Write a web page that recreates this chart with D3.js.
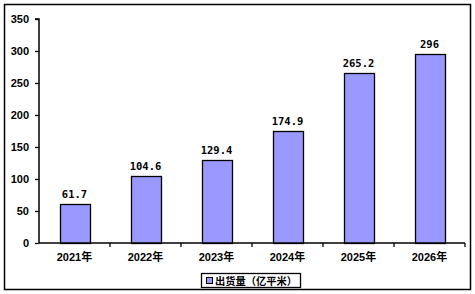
<!DOCTYPE html>
<html>
<head>
<meta charset="utf-8">
<script src="https://cdn.jsdelivr.net/npm/d3@7"></script>
<style>
  body { margin: 0; background: #fff; }
  svg { display: block; }
</style>
</head>
<body>
<div id="chart"></div>
<script>
const years = ["2021年", "2022年", "2023年", "2024年", "2025年", "2026年"];
const shipments = [61.7, 104.6, 129.4, 174.9, 265.2, 296];
const valueLabels = ["61.7", "104.6", "129.4", "174.9", "265.2", "296"];
const yTicks = [0, 50, 100, 150, 200, 250, 300, 350];
const seriesName = "出货量（亿平米）";

const width = 475, height = 294;
const margin = { top: 19, right: 10, bottom: 51, left: 39 };

const svg = d3.select("#chart").append("svg")
    .attr("width", width)
    .attr("height", height);

// outer frame
svg.append("rect")
    .attr("x", 4.5).attr("y", 4.5)
    .attr("width", 466).attr("height", 285)
    .attr("fill", "#fff")
    .attr("stroke", "#000")
    .attr("stroke-width", 1.5);

const x = d3.scaleBand()
    .domain(years)
    .range([margin.left, 465])
    .paddingInner(0.58)
    .paddingOuter(0.29);

const y = d3.scaleLinear()
    .domain([0, 350])
    .range([243, margin.top]);

const bandStep = x.step();

// bars
svg.selectAll(".bar")
    .data(shipments)
    .enter()
    .append("rect")
    .attr("class", "bar")
    .attr("x", (d, i) => Math.round(x(years[i])) + 0.5)
    .attr("y", d => Math.round(y(d)) + 0.5)
    .attr("width", Math.round(x.bandwidth()))
    .attr("height", d => Math.round(y(0)) - Math.round(y(d)))
    .attr("fill", "#9999ff")
    .attr("stroke", "#000")
    .attr("stroke-width", 1.3);

// value labels
svg.selectAll(".val")
    .data(shipments)
    .enter()
    .append("text")
    .attr("class", "val")
    .attr("x", (d, i) => x(years[i]) + x.bandwidth() / 2)
    .attr("y", d => y(d) - 6)
    .attr("text-anchor", "middle")
    .style("font-family", "'DejaVu Sans Mono', monospace")
    .style("font-weight", "bold")
    .style("font-size", "10.5px")
    .text((d, i) => valueLabels[i]);

// y axis
const yAxis = svg.append("g")
    .attr("transform", `translate(${margin.left},0)`)
    .call(d3.axisLeft(y).tickValues(yTicks).tickSize(4).tickPadding(6));
yAxis.select(".domain").attr("stroke-width", 1.5).attr("d", `M-4,${y(350)}H0V${y(0)}`);
yAxis.selectAll("line").attr("stroke-width", 1.3);
yAxis.selectAll("text")
    .style("font-family", "'Liberation Sans', Arial, sans-serif")
    .style("font-weight", "bold")
    .style("font-size", "11px")
    .attr("fill", "#000");

// x axis with ticks at category boundaries
const xAxisG = svg.append("g")
    .attr("transform", `translate(0,${y(0)})`);
xAxisG.append("line")
    .attr("x1", margin.left).attr("x2", 465)
    .attr("stroke", "#000").attr("stroke-width", 1.5);
xAxisG.selectAll(".xt")
    .data(d3.range(1, years.length + 1))
    .enter()
    .append("line")
    .attr("x1", i => margin.left + i * bandStep)
    .attr("x2", i => margin.left + i * bandStep)
    .attr("y1", 0).attr("y2", 4)
    .attr("stroke", "#000").attr("stroke-width", 1.3);
xAxisG.selectAll(".xl")
    .data(years)
    .enter()
    .append("text")
    .attr("x", d => x(d) + x.bandwidth() / 2)
    .attr("y", 18)
    .attr("text-anchor", "middle")
    .style("font-family", "'Liberation Sans', 'Noto Sans CJK SC', sans-serif")
    .style("font-weight", "bold")
    .style("font-size", "11px")
    .text(d => d);

// legend
const legend = svg.append("g").attr("transform", "translate(201,273)");
legend.append("rect")
    .attr("x", 0.5).attr("y", 0.5)
    .attr("width", 99).attr("height", 14)
    .attr("fill", "#fff")
    .attr("stroke", "#000")
    .attr("stroke-width", 1.3);
legend.append("rect")
    .attr("x", 5.5).attr("y", 4.5)
    .attr("width", 6).attr("height", 6)
    .attr("fill", "#9999ff")
    .attr("stroke", "#000");
legend.append("text")
    .attr("x", 14).attr("y", 11.5)
    .attr("textLength", 82)
    .attr("lengthAdjust", "spacingAndGlyphs")
    .style("font-family", "'Noto Sans CJK SC', sans-serif")
    .style("font-weight", "bold")
    .style("font-size", "10.5px")
    .text(seriesName);
</script>
</body>
</html>
